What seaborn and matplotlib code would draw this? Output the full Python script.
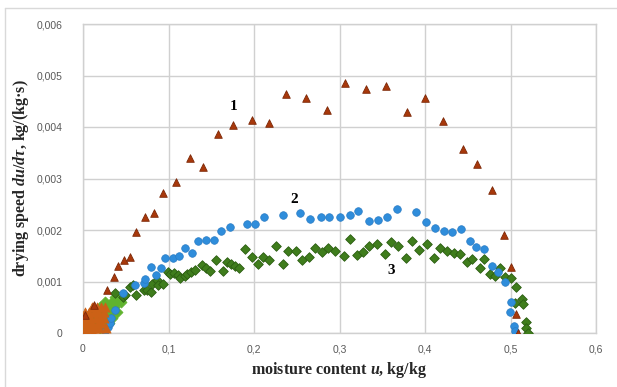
import matplotlib
matplotlib.use("Agg")
import matplotlib.pyplot as plt
import matplotlib.ticker as mticker
from matplotlib.lines import Line2D
import seaborn as sns
import pandas as pd

# Series 1 (triangles): moisture content u, drying speed du/dtau
u1 = [0.002, 0.013, 0.028, 0.036, 0.041, 0.048, 0.055, 0.062, 0.072, 0.083,
      0.094, 0.109, 0.125, 0.140, 0.158, 0.176, 0.198, 0.218, 0.238, 0.261,
      0.285, 0.306, 0.331, 0.354, 0.379, 0.400, 0.421, 0.444, 0.461, 0.478,
      0.492, 0.501, 0.507, 0.509]
v1 = [0.00035, 0.00054, 0.00083, 0.00109, 0.00130, 0.00142, 0.00148, 0.00196, 0.00225, 0.00233,
      0.00272, 0.00293, 0.00340, 0.00322, 0.00386, 0.00404, 0.00414, 0.00408, 0.00464, 0.00456,
      0.00433, 0.00485, 0.00474, 0.00480, 0.00429, 0.00456, 0.00412, 0.00357, 0.00328, 0.00278,
      0.00190, 0.00128, 0.00037, 0.00000]

# Series 1, dense start-up readings near the origin
u1_start = [0.000, 0.001, 0.002, 0.003, 0.004, 0.005, 0.006, 0.007, 0.008, 0.009,
            0.010, 0.011, 0.012, 0.013, 0.014, 0.015, 0.016, 0.017, 0.018, 0.019,
            0.020, 0.021, 0.022, 0.024, 0.025, 0.026, 0.027, 0.003, 0.006, 0.010]
v1_start = [0.0000, 0.0002, 0.0004, 0.0001, 0.0003, 0.0000, 0.0002, 0.0004, 0.0001, 0.0003,
            0.0005, 0.0002, 0.0000, 0.0004, 0.0001, 0.0003, 0.0005, 0.0002, 0.0004, 0.0001,
            0.0003, 0.0005, 0.0002, 0.0004, 0.0003, 0.0005, 0.0001, 0.0003, 0.0001, 0.0001]

# Series 2 (circles)
u2 = [0.026, 0.029, 0.032, 0.033, 0.038, 0.047, 0.061, 0.071, 0.073, 0.079,
      0.085, 0.091, 0.096, 0.105, 0.112, 0.119, 0.127, 0.135, 0.144, 0.153,
      0.161, 0.172, 0.192, 0.201, 0.212, 0.234, 0.254, 0.266, 0.278, 0.288,
      0.300, 0.312, 0.322, 0.334, 0.345, 0.355, 0.367, 0.389, 0.401, 0.412,
      0.422, 0.432, 0.442, 0.453, 0.460, 0.469, 0.478, 0.485, 0.494, 0.501,
      0.499, 0.504, 0.505]
v2 = [0.00004, 0.00012, 0.00019, 0.00029, 0.00045, 0.00078, 0.00093, 0.00097, 0.00105, 0.00128,
      0.00113, 0.00126, 0.00146, 0.00146, 0.00150, 0.00165, 0.00155, 0.00179, 0.00181, 0.00181,
      0.00198, 0.00206, 0.00212, 0.00212, 0.00225, 0.00229, 0.00233, 0.00221, 0.00225, 0.00225,
      0.00225, 0.00229, 0.00237, 0.00217, 0.00219, 0.00225, 0.00241, 0.00235, 0.00216, 0.00204,
      0.00198, 0.00196, 0.00202, 0.00179, 0.00167, 0.00163, 0.00130, 0.00118, 0.00099, 0.00060,
      0.00041, 0.00014, 0.00004]

# Series 3 (diamonds)
u3 = [0.038, 0.047, 0.049, 0.055, 0.059, 0.062, 0.071, 0.075, 0.079, 0.081,
      0.087, 0.088, 0.093, 0.099, 0.102, 0.106, 0.111, 0.114, 0.119, 0.122,
      0.126, 0.131, 0.139, 0.144, 0.148, 0.156, 0.164, 0.168, 0.173, 0.178,
      0.182, 0.189, 0.198, 0.205, 0.211, 0.218, 0.226, 0.234, 0.240, 0.249,
      0.256, 0.264, 0.271, 0.280, 0.287, 0.295, 0.305, 0.312, 0.320, 0.328,
      0.335, 0.344, 0.353, 0.360, 0.369, 0.378, 0.385, 0.393, 0.402, 0.411,
      0.418, 0.426, 0.434, 0.441, 0.449, 0.455, 0.464, 0.469, 0.476, 0.482,
      0.488, 0.493, 0.500, 0.507, 0.505, 0.513, 0.515, 0.518, 0.518, 0.520]
v3 = [0.00078, 0.00070, 0.00074, 0.00089, 0.00093, 0.00074, 0.00083, 0.00083, 0.00080, 0.00095,
      0.00103, 0.00093, 0.00095, 0.00118, 0.00115, 0.00117, 0.00113, 0.00107, 0.00111, 0.00115,
      0.00118, 0.00122, 0.00132, 0.00126, 0.00120, 0.00142, 0.00120, 0.00138, 0.00134, 0.00130,
      0.00126, 0.00163, 0.00148, 0.00134, 0.00148, 0.00142, 0.00169, 0.00134, 0.00159, 0.00159,
      0.00142, 0.00148, 0.00165, 0.00157, 0.00165, 0.00159, 0.00150, 0.00183, 0.00151, 0.00157,
      0.00169, 0.00173, 0.00153, 0.00177, 0.00169, 0.00146, 0.00179, 0.00161, 0.00173, 0.00146,
      0.00165, 0.00159, 0.00155, 0.00153, 0.00138, 0.00144, 0.00126, 0.00144, 0.00115, 0.00111,
      0.00126, 0.00109, 0.00107, 0.00089, 0.00058, 0.00066, 0.00056, 0.00021, 0.00010, 0.00000]

# Series 3, dense start-up readings near the origin
u3_start = [0.004, 0.006, 0.008, 0.010, 0.012, 0.014, 0.016, 0.018, 0.020, 0.022,
            0.024, 0.026, 0.028, 0.030, 0.032, 0.034, 0.036, 0.038, 0.040, 0.042,
            0.044, 0.030, 0.026, 0.020, 0.034, 0.040]
v3_start = [0.0001, 0.0002, 0.0003, 0.0002, 0.0004, 0.0003, 0.0004, 0.0002, 0.0005, 0.0003,
            0.0004, 0.0006, 0.0003, 0.0005, 0.0004, 0.0006, 0.0005, 0.0007, 0.0006, 0.0007,
            0.0006, 0.0002, 0.0001, 0.0001, 0.0003, 0.0004]

x_ticks = [0, 0.1, 0.2, 0.3, 0.4, 0.5, 0.6]
y_ticks = [0, 0.001, 0.002, 0.003, 0.004, 0.005, 0.006]

# Curve numbers: (label, u, du/dtau)
curve_labels = [("1", 0.176, 0.00439), ("2", 0.247, 0.00260), ("3", 0.361, 0.00122)]

sns.set_theme(style="white")
plt.rcParams["mathtext.fontset"] = "custom"
plt.rcParams["mathtext.rm"] = "Liberation Serif:bold"
plt.rcParams["mathtext.bf"] = "Liberation Serif:bold"
plt.rcParams["mathtext.it"] = "Liberation Serif:bold:italic"

fig = plt.figure(figsize=(6.17, 3.87), dpi=100)
ax = fig.add_axes([83 / 617, 1 - 333 / 387, (596 - 83) / 617, (333 - 24) / 387])

grid_c = "#d0d0d0"
ax.grid(True, color=grid_c, linewidth=1.0)
ax.set_axisbelow(True)
for s in ax.spines.values():
    s.set_color(grid_c)
    s.set_linewidth(1.0)

df3s = pd.DataFrame({"u": u3_start, "v": v3_start})
df3 = pd.DataFrame({"u": u3, "v": v3})
df2 = pd.DataFrame({"u": u2, "v": v2})
df1s = pd.DataFrame({"u": u1_start, "v": v1_start})
df1 = pd.DataFrame({"u": u1, "v": v1})

sns.scatterplot(data=df3s, x="u", y="v", ax=ax, marker="D", s=32,
                color="#5fb32e", edgecolor="#5fb32e", linewidth=0.5, zorder=3)
sns.scatterplot(data=df3, x="u", y="v", ax=ax, marker="D", s=24,
                color="#3f7d1c", edgecolor="#2c5e12", linewidth=0.6, zorder=3)
sns.scatterplot(data=df2, x="u", y="v", ax=ax, marker="o", s=30,
                color="#2f8ddb", edgecolor="#2a7cc4", linewidth=0.5, zorder=4)
sns.scatterplot(data=df1s, x="u", y="v", ax=ax, marker="^", s=44,
                color="#cc6116", edgecolor="#cc6116", linewidth=0.5, zorder=5)
sns.scatterplot(data=df1, x="u", y="v", ax=ax, marker="^", s=30,
                color="#a8380b", edgecolor="#7c2808", linewidth=0.6, zorder=5)

for txt, xu, yv in curve_labels:
    ax.text(xu, yv, txt, fontsize=11, fontweight="bold", family="Liberation Serif",
            ha="center", va="center", color="black", zorder=6)

ax.set_xlim(0, 0.6)
ax.set_ylim(0, 0.006)
ax.set_xticks(x_ticks)
ax.set_yticks(y_ticks)
comma = lambda val, pos: "0" if val == 0 else (f"{val:.1f}" if abs(val) >= 0.05 else f"{val:.3f}").replace(".", ",")
ax.xaxis.set_major_formatter(mticker.FuncFormatter(comma))
ax.yaxis.set_major_formatter(mticker.FuncFormatter(comma))
ax.tick_params(axis="both", length=0, labelsize=7.5, labelcolor="#595959")
ax.tick_params(axis="x", pad=8)
ax.tick_params(axis="y", pad=15)
for lab in ax.get_xticklabels() + ax.get_yticklabels():
    lab.set_family("Liberation Sans")

ax.set_xlabel(r"moisture content $\mathit{u}$, kg/kg", fontsize=11.5,
              fontweight="bold", family="Liberation Serif", labelpad=4)
ax.set_ylabel(r"drying speed $\mathit{du/d\tau}$, kg/(kg·s)", fontsize=11.5,
              fontweight="bold", family="Liberation Serif", labelpad=4)

# thin frame around the chart area
fig.add_artist(Line2D([5 / 617, 5 / 617], [0, 1 - 8 / 387], transform=fig.transFigure,
                      color="#d9d9d9", linewidth=1.0))
fig.add_artist(Line2D([5 / 617, 1], [1 - 8 / 387, 1 - 8 / 387], transform=fig.transFigure,
                      color="#d9d9d9", linewidth=1.0))

fig.savefig("out.png", dpi=100)
